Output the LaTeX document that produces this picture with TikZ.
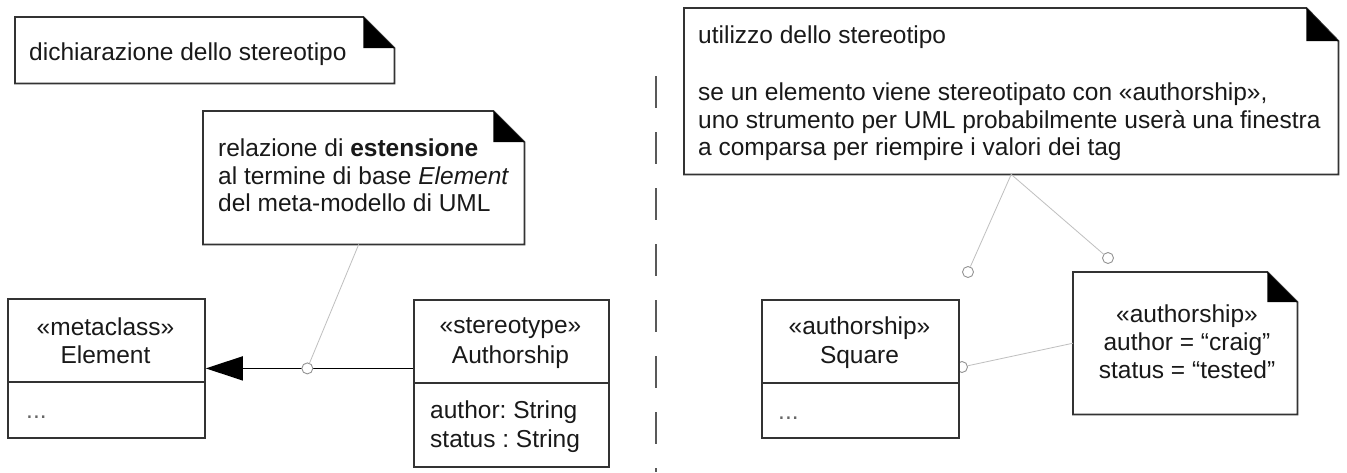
\documentclass[tikz,border=0pt]{standalone}
\usepackage{fontspec}
\setmainfont{Liberation Sans}
\usetikzlibrary{arrows.meta}
\frenchspacing
\begin{document}
\begin{tikzpicture}[x=1pt,y=-1pt,
  txt/.style={font=\fontsize{24.5}{28}\selectfont\frenchspacing, inner sep=0pt, text=black!90},
  dots/.style={txt, text=black!60},
  boxshape/.style={draw=black!80, line width=1.8pt, fill=white, inner sep=0pt, anchor=north west},
  notebox/.style={draw=none, fill=white, inner sep=0pt, anchor=north west},
  noteline/.style={draw=black!80, line width=1.8pt, line join=miter},
  divider/.style={draw=black!80, line width=1.8pt},
  link/.style={draw=gray!50, line width=0.8pt},
  pin/.style={circle, draw=gray!85, fill=white, line width=0.9pt, minimum size=11pt, inner sep=0pt},
  separator/.style={draw=black!65, line width=1.8pt, dash pattern=on 32pt off 24pt},
]
\useasboundingbox (0,0) rectangle (1347,472);
\fill[white] (0,0) rectangle (1347,472);

% ---------- left half ----------
% note 1
\node[notebox, minimum width=379pt, minimum height=66pt] (n1) at (15,17) {};
\draw[noteline] (n1.north west) -- ([xshift=-31pt]n1.north east) -- ([yshift=-31pt]n1.north east) -- (n1.south east) -- (n1.south west) -- cycle;
\fill ([xshift=-31pt]n1.north east) -- ([xshift=-31pt,yshift=-31pt]n1.north east) -- ([yshift=-31pt]n1.north east) -- cycle;
\node[txt, anchor=base west] (t1) at (29,60) {dichiarazione dello stereotipo};

% note 2
\node[notebox, minimum width=321pt, minimum height=133pt] (n2) at (203,111) {};
\draw[noteline] (n2.north west) -- ([xshift=-31pt]n2.north east) -- ([yshift=-31pt]n2.north east) -- (n2.south east) -- (n2.south west) -- cycle;
\fill ([xshift=-31pt]n2.north east) -- ([xshift=-31pt,yshift=-31pt]n2.north east) -- ([yshift=-31pt]n2.north east) -- cycle;
\node[txt, anchor=base west] (t2a) at (218,156) {relazione di \textbf{estensione}};
\node[txt, anchor=base west] (t2b) at (218,184) {al termine di base \textit{Element}};
\node[txt, anchor=base west] (t2c) at (218,211) {del meta-modello di UML};

% class Element
\node[boxshape, minimum width=197pt, minimum height=139pt] (el) at (7,298) {};
\draw[divider] ([yshift=-84pt]el.north west) -- ([yshift=-84pt]el.north east);
\node[txt, anchor=base] (el1) at (105.5,335) {«metaclass»};
\node[txt, anchor=base] (el2) at (105.5,363) {Element};
\node[dots, anchor=base west] (el3) at (26,418) {...};

% class Authorship
\node[boxshape, minimum width=195pt, minimum height=167pt] (au) at (413,299) {};
\draw[divider] ([yshift=-84pt]au.north west) -- ([yshift=-84pt]au.north east);
\node[txt, anchor=base] (au1) at (510.5,333) {«stereotype»};
\node[txt, anchor=base] (au2) at (510.5,363) {Authorship};
\node[txt, anchor=base west] (au3) at (430,418) {author: String};
\node[txt, anchor=base west] (au4) at (430,447) {status : String};

% extension arrow
\draw[line width=1.6pt, -{Triangle[length=37pt,width=24pt]}] (au.west |- el.east) -- (el.east);
\path (au.west |- el.east) -- (el.east) node[pin, pos=0.51] (p1) {};
\draw[link] ([xshift=-5pt]n2.south) -- (p1);

% separator
\coordinate (sepTop) at (656,76);
\coordinate (sepBot) at (656,472);
\draw[separator] (sepTop) -- (sepBot);

% ---------- right half ----------
% note 3
\node[notebox, minimum width=654pt, minimum height=166pt] (n3) at (684,8) {};
\draw[noteline] (n3.north west) -- ([xshift=-32pt]n3.north east) -- ([yshift=-33pt]n3.north east) -- (n3.south east) -- (n3.south west) -- cycle;
\fill ([xshift=-32pt]n3.north east) -- ([xshift=-32pt,yshift=-33pt]n3.north east) -- ([yshift=-33pt]n3.north east) -- cycle;
\node[txt, anchor=base west] (t3a) at (698,43) {utilizzo dello stereotipo};
\node[txt, anchor=base west] (t3b) at (698,100) {se un elemento viene stereotipato con «authorship»,};
\node[txt, anchor=base west] (t3c) at (698,128) {uno strumento per UML probabilmente userà una finestra};
\node[txt, anchor=base west] (t3d) at (698,155) {a comparsa per riempire i valori dei tag};

% pins and links from note 3
\node[pin] (p2) at (968,272) {};
\node[pin] (p3) at (1108,258) {};
\draw[link] (n3.south) -- (p2);
\draw[link] (n3.south) -- (p3);

% pin at Square (partly hidden)
\node[pin] (p4) at (962,367) {};

% class Square
\node[boxshape, minimum width=197pt, minimum height=138pt] (sq) at (761,299) {};
\draw[divider] ([yshift=-84pt]sq.north west) -- ([yshift=-84pt]sq.north east);
\node[txt, anchor=base] (sq1) at (859.5,334) {«authorship»};
\node[txt, anchor=base] (sq2) at (859.5,363) {Square};
\node[dots, anchor=base west] (sq3) at (778,419) {...};

% note 4
\node[notebox, minimum width=224pt, minimum height=142pt] (n4) at (1073,272) {};
\draw[noteline] (n4.north west) -- ([xshift=-30pt]n4.north east) -- ([yshift=-30pt]n4.north east) -- (n4.south east) -- (n4.south west) -- cycle;
\fill ([xshift=-30pt]n4.north east) -- ([xshift=-30pt,yshift=-30pt]n4.north east) -- ([yshift=-30pt]n4.north east) -- cycle;
\node[txt, anchor=base] (t4a) at (1187,322) {«authorship»};
\node[txt, anchor=base] (t4b) at (1187,350) {author = “craig”};
\node[txt, anchor=base] (t4c) at (1187,378) {status = “tested”};

\draw[link] (p4) -- (n4.west);
\end{tikzpicture}
\end{document}
